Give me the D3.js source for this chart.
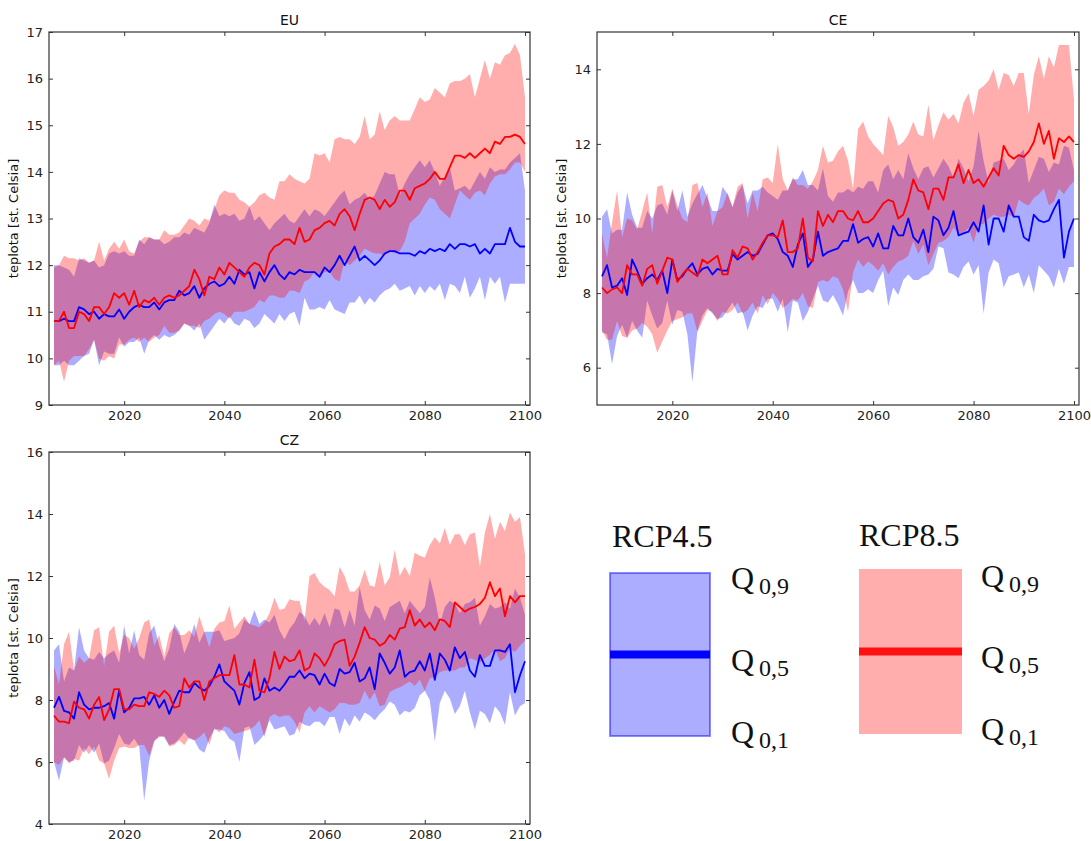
<!DOCTYPE html>
<html><head><meta charset="utf-8">
<script src="https://cdn.jsdelivr.net/npm/d3@7"></script>
<style>
html,body{margin:0;padding:0;background:#fff;}
svg{display:block;}
</style></head>
<body>
<svg id="chart" width="1091" height="841"></svg>
<script>
// ---------------- DATA ----------------
const firstYear = 2006, lastYear = 2100;
const years = d3.range(firstYear, lastYear + 1);
const xTicks = [2020, 2040, 2060, 2080, 2100];
const panelTitles = ["EU", "CE", "CZ"];
const yTicksEU = [9, 10, 11, 12, 13, 14, 15, 16, 17];
const yTicksCE = [6, 8, 10, 12, 14];
const yTicksCZ = [4, 6, 8, 10, 12, 14, 16];
const yLabel = "teplota [st. Celsia]";
const legendNames = ["RCP4.5", "RCP8.5"];
const legendQuantiles = ["0,9", "0,5", "0,1"];

// EU, RCP4.5
const EU_45_q50 = [10.8,10.8,10.85,10.8,10.8,11.1,11.05,10.95,11.0,10.85,
 10.95,10.9,10.9,11.05,10.85,11.0,11.1,11.15,11.1,11.1,
 11.2,11.05,11.2,11.25,11.25,11.45,11.35,11.4,11.55,11.3,
 11.5,11.6,11.65,11.55,11.6,11.75,11.6,11.9,11.8,11.85,
 11.5,11.85,11.65,11.85,12.0,11.8,11.7,11.85,11.8,11.9,
 11.85,11.85,11.85,11.75,11.95,11.85,12.0,12.2,12.0,12.2,
 12.4,12.1,12.2,12.1,12.0,12.1,12.25,12.3,12.3,12.25,
 12.25,12.25,12.2,12.3,12.25,12.35,12.3,12.35,12.3,12.45,
 12.35,12.45,12.45,12.4,12.45,12.25,12.35,12.25,12.45,12.45,
 12.45,12.8,12.5,12.4,12.4];
const EU_45_q90 = [12.0,12.0,11.95,11.9,11.75,12.15,12.1,12.05,12.1,11.95,
 12.0,12.25,12.3,12.25,12.3,12.2,12.2,12.55,12.45,12.6,
 12.55,12.55,12.45,12.5,12.6,12.6,12.7,12.65,12.8,12.75,
 12.7,12.9,13.3,13.05,13.1,13.05,13.1,12.95,13.0,13.25,
 12.95,13.05,12.9,12.75,12.9,13.0,13.1,12.95,12.9,13.05,
 13.2,13.05,13.2,13.15,13.05,13.2,13.35,13.5,13.6,13.3,
 13.4,13.45,13.55,13.4,13.5,13.75,14.0,13.95,13.95,13.5,
 13.75,13.95,14.1,14.25,14.1,14.25,14.0,13.7,13.9,14.1,
 13.6,13.65,13.7,13.6,13.8,14.0,13.85,14.1,14.0,14.05,
 14.05,14.2,14.3,14.4,13.6];
const EU_45_q10 = [9.85,9.85,9.95,9.85,9.85,9.95,10.05,10.1,10.4,9.85,
 10.15,10.1,10.1,10.45,10.25,10.35,10.35,10.45,10.1,10.4,
 10.5,10.4,10.5,10.45,10.5,10.6,10.75,10.7,10.6,10.75,
 10.4,10.55,10.7,10.85,10.75,10.9,10.75,10.7,10.85,10.8,
 10.65,10.75,10.95,10.85,10.75,10.95,10.8,10.95,11.0,10.7,
 11.3,11.05,11.05,11.1,11.05,11.25,11.05,11.0,10.95,11.2,
 11.2,11.35,11.15,11.3,11.2,11.35,11.45,11.5,11.6,11.45,
 11.5,11.55,11.35,11.55,11.4,11.55,11.45,11.6,11.25,11.6,
 11.55,11.4,11.75,11.3,11.5,11.75,11.25,11.75,11.6,11.75,
 11.2,11.6,11.6,11.6,11.6];
// EU, RCP8.5
const EU_85_q50 = [10.8,10.8,11.0,10.65,10.65,11.0,10.95,10.8,11.1,11.1,
 10.95,11.1,11.4,11.3,11.4,11.15,11.45,11.1,11.25,11.2,
 11.3,11.15,11.3,11.35,11.3,11.35,11.45,11.55,11.9,11.7,
 11.35,11.75,11.7,11.95,11.8,12.05,11.95,11.85,11.75,11.95,
 12.05,12.0,11.8,12.25,12.4,12.45,12.55,12.55,12.45,12.8,
 12.5,12.55,12.75,12.8,12.9,12.95,12.85,13.1,13.2,13.05,
 12.75,13.1,13.4,13.45,13.4,13.2,13.4,13.25,13.35,13.6,
 13.6,13.4,13.65,13.7,13.75,13.85,14.0,13.85,13.85,14.1,
 14.35,14.35,14.3,14.4,14.3,14.4,14.5,14.4,14.65,14.6,
 14.75,14.75,14.8,14.75,14.6];
const EU_85_q90 = [11.95,12.0,12.2,12.15,12.15,12.1,12.15,12.05,12.1,12.5,
 12.1,12.35,12.5,12.35,12.55,12.3,12.25,12.5,12.6,12.6,
 12.55,12.55,12.75,12.65,12.65,12.7,12.85,13.0,12.95,12.85,
 13.0,12.95,13.2,13.5,13.6,13.55,13.55,13.4,13.35,13.25,
 13.35,13.5,13.55,13.45,13.4,13.8,13.8,13.95,13.85,13.8,
 13.75,13.85,14.4,14.35,14.4,14.2,14.7,14.75,14.7,14.7,
 14.6,14.75,15.2,14.7,14.8,15.3,14.9,15.1,15.2,15.1,
 15.1,15.1,15.35,15.6,15.5,15.55,15.8,15.7,15.6,15.9,
 15.95,15.95,16.0,16.1,15.6,16.0,16.4,16.0,16.35,16.3,
 16.5,16.55,16.75,16.5,15.6];
const EU_85_q10 = [9.85,9.95,9.5,9.95,10.05,10.05,10.05,10.2,10.4,10.0,
 9.95,10.05,10.0,10.3,10.3,10.4,10.45,10.35,10.45,10.35,
 10.45,10.5,10.7,10.55,10.55,10.6,10.75,10.7,10.7,10.65,
 10.8,10.85,10.95,11.0,10.95,10.85,11.0,11.0,11.0,11.05,
 11.1,11.25,11.2,11.35,11.35,11.3,11.3,11.45,11.45,11.4,
 11.65,11.7,11.85,11.75,11.85,11.85,11.7,11.65,12.1,12.0,
 12.1,12.2,12.35,12.3,12.25,12.25,12.2,12.3,12.25,12.3,
 12.5,12.9,13.0,13.1,13.3,13.45,13.4,13.2,13.1,13.0,
 13.3,13.6,13.5,13.4,13.55,13.6,13.5,13.75,13.9,13.95,
 13.95,14.05,14.2,14.2,14.0];

// CE, RCP4.5
const CE_45_q50 = [8.45,8.75,8.15,8.2,8.4,7.95,8.9,8.6,8.25,8.4,
 8.5,8.35,8.6,8.0,8.9,8.35,8.45,8.65,8.8,8.5,
 8.65,8.7,8.5,8.65,8.6,8.6,9.05,8.9,9.0,9.1,
 9.0,9.05,9.3,9.55,9.6,9.45,9.1,9.0,8.7,9.3,
 9.6,8.7,8.9,9.65,9.0,9.1,9.15,9.2,9.4,9.4,
 9.85,9.35,9.45,9.5,9.25,9.6,9.2,9.2,9.8,9.55,
 9.55,10.0,9.5,9.35,9.7,9.1,10.05,9.95,9.55,9.75,
 10.2,9.55,9.6,9.65,9.9,9.65,10.35,9.3,10.0,10.0,
 9.65,10.35,10.05,10.05,9.5,9.4,10.1,9.95,9.9,9.95,
 10.25,10.5,8.95,9.65,10.0];
const CE_45_q90 = [10.05,10.25,9.6,9.7,9.7,10.7,10.1,9.75,9.75,10.2,
 10.0,10.35,10.4,10.1,10.75,10.2,10.75,10.05,10.4,10.65,
 10.9,10.55,10.2,10.2,10.85,10.65,10.3,10.7,10.9,10.4,
 10.75,10.75,10.85,10.7,10.6,10.5,10.75,10.75,11.05,11.05,
 11.3,10.9,10.9,10.75,11.35,10.6,10.45,10.7,10.7,10.8,
 10.7,10.85,10.8,11.0,11.0,10.7,11.3,11.45,11.05,11.3,
 11.05,11.75,11.35,11.05,11.35,11.4,11.1,11.35,11.6,11.4,
 11.1,11.6,11.35,11.0,11.4,12.35,11.55,10.95,11.5,11.55,
 11.6,11.3,11.45,11.7,11.85,10.95,11.3,11.65,11.6,11.25,
 11.5,11.45,11.95,11.9,11.3];
const CE_45_q10 = [6.95,6.9,6.1,6.85,7.15,6.8,7.25,7.0,6.8,7.8,
 7.4,7.05,7.2,7.8,7.15,7.55,7.5,6.9,5.6,7.0,
 7.4,7.6,7.45,7.3,7.35,7.55,7.75,7.45,7.5,7.0,
 7.4,7.65,7.6,7.85,7.85,7.5,7.85,6.95,7.8,7.75,
 7.25,7.5,7.85,8.2,7.8,7.75,7.95,7.7,7.4,8.05,
 8.35,8.0,8.0,8.1,8.0,8.35,8.6,7.65,8.15,7.95,
 8.35,8.5,8.35,8.35,8.45,8.5,8.65,9.25,9.2,8.55,
 8.5,8.4,8.7,8.85,8.5,8.75,7.45,8.55,8.9,8.8,
 8.15,8.45,8.5,8.55,8.15,8.5,8.0,8.75,8.6,8.45,
 8.15,8.65,8.25,8.7,8.7];
// CE, RCP8.5
const CE_85_q50 = [8.15,8.0,8.1,8.15,8.0,8.75,8.5,8.5,8.2,8.65,
 8.75,8.25,8.6,8.95,8.9,8.3,8.5,8.65,8.55,8.45,
 8.9,8.8,8.9,9.0,8.5,8.5,9.15,8.95,9.25,9.2,
 8.9,9.1,9.35,9.55,9.55,9.5,9.95,9.1,9.1,9.2,
 10.0,8.95,8.85,10.2,9.8,10.1,9.9,10.2,10.2,10.0,
 9.95,10.2,9.9,9.9,10.0,10.2,10.4,10.5,10.45,10.0,
 10.1,10.5,11.05,10.75,10.7,10.25,10.8,10.8,10.5,11.1,
 11.1,11.45,10.95,11.3,10.95,11.05,10.85,11.1,11.35,11.15,
 11.95,11.7,11.6,11.7,11.65,11.8,12.05,12.55,12.0,12.35,
 11.6,12.15,12.05,12.2,12.05];
const CE_85_q90 = [9.6,8.95,9.9,10.75,9.5,10.0,9.95,9.7,10.2,10.7,
 9.6,10.85,10.9,10.3,10.8,10.35,10.0,9.9,10.9,10.95,
 10.3,10.7,9.8,10.2,10.3,10.7,10.3,10.85,10.95,10.0,
 10.7,10.2,11.05,11.1,10.95,12.0,11.05,10.75,11.1,10.9,
 10.9,10.8,11.0,11.3,11.95,11.5,11.55,11.8,11.95,11.55,
 10.8,12.4,12.6,12.2,12.0,11.85,11.7,12.75,12.45,11.95,
 12.05,12.25,12.6,12.25,12.2,13.05,12.1,12.5,12.85,12.65,
 12.8,12.55,13.1,13.35,12.75,13.45,13.55,13.7,14.0,13.45,
 13.9,13.85,13.55,13.9,13.9,12.8,13.85,14.35,13.75,14.35,
 14.05,14.65,14.65,14.65,13.2];
const CE_85_q10 = [7.0,6.75,6.75,7.25,6.85,6.8,7.0,7.05,7.2,7.1,
 6.9,6.4,6.7,7.0,7.25,7.3,7.35,7.45,7.45,6.95,
 7.25,7.55,7.5,7.25,7.5,7.45,7.55,7.75,7.45,7.55,
 7.75,7.45,7.95,7.7,8.0,7.85,7.6,7.7,7.85,7.8,
 8.0,7.65,7.6,8.3,8.35,8.3,8.45,8.4,8.1,7.5,
 8.55,8.9,8.7,8.85,8.75,8.6,8.8,8.5,8.7,8.85,
 8.9,9.0,9.4,9.05,9.3,8.75,9.05,9.35,9.4,9.5,
 9.75,9.6,9.6,9.75,9.35,9.85,9.85,10.0,10.1,10.05,
 10.05,10.1,10.05,10.5,10.4,10.35,10.55,10.65,10.8,10.35,
 10.45,10.8,10.65,10.85,11.0];

// CZ, RCP4.5
const CZ_45_q50 = [7.75,8.1,7.65,7.6,7.4,8.25,7.85,7.7,7.75,7.75,
 7.8,7.9,7.4,8.3,7.6,7.75,8.05,8.05,8.1,7.85,
 8.15,7.75,8.0,7.55,7.95,8.3,8.25,8.25,8.55,8.4,
 8.3,8.45,8.75,9.15,8.6,8.45,8.3,7.85,8.55,8.9,
 8.0,8.1,8.7,8.3,8.4,8.3,8.5,8.75,8.75,8.95,
 8.7,8.85,8.8,8.5,8.85,8.55,8.45,9.0,8.85,8.9,
 9.2,8.6,8.7,9.05,8.35,9.5,9.2,8.85,9.05,9.6,
 8.75,8.9,8.95,9.25,8.95,9.5,8.65,9.5,9.3,8.95,
 9.7,9.35,9.55,8.95,8.75,9.45,9.1,9.1,9.6,9.6,
 9.55,9.8,8.25,8.8,9.25];
const CZ_45_q90 = [9.6,9.8,8.6,9.05,8.95,10.35,9.6,9.35,9.3,9.55,
 9.35,9.5,9.6,9.2,10.4,9.5,10.25,9.45,9.3,10.15,
 10.4,9.75,9.25,9.65,10.45,10.2,9.5,9.9,10.45,9.85,
 10.2,10.2,10.2,10.25,9.9,9.95,10.0,10.15,10.6,10.45,
 10.9,10.45,10.6,10.5,10.75,10.25,9.95,10.3,10.5,10.85,
 10.7,10.4,10.65,10.4,10.8,10.35,10.95,10.9,10.35,10.9,
 10.4,11.65,10.9,10.6,11.05,10.95,10.55,11.0,11.1,11.2,
 10.8,11.2,11.0,10.8,11.0,11.95,11.3,10.45,11.0,11.2,
 11.1,10.8,11.1,11.15,11.3,10.4,10.7,11.1,10.95,11.0,
 11.15,10.95,11.6,11.3,10.75];
const CZ_45_q10 = [6.0,5.4,6.15,6.0,6.05,6.55,6.3,6.55,6.3,6.6,
 5.95,6.05,6.45,6.9,6.6,6.55,6.75,6.5,4.75,6.05,
 6.65,6.85,6.8,6.55,6.6,6.75,6.95,6.75,6.7,6.4,
 6.3,6.75,7.05,7.05,7.0,6.75,6.65,6.0,7.1,7.15,
 6.55,6.7,6.9,7.35,7.05,7.1,7.15,6.85,6.9,7.3,
 7.2,7.15,7.3,7.3,7.15,7.45,7.45,6.9,7.4,7.15,
 7.5,7.3,7.6,7.5,7.35,7.55,7.7,7.95,7.85,7.5,
 7.65,7.6,7.75,8.15,8.3,8.0,6.65,7.9,8.3,8.05,
 7.55,7.8,8.3,7.6,7.05,7.65,7.55,7.25,7.8,7.6,
 7.2,8.25,7.5,7.8,7.9];
// CZ, RCP8.5
const CZ_85_q50 = [7.5,7.3,7.3,7.25,7.95,7.75,7.7,7.4,7.85,8.1,
 7.35,7.7,8.35,8.35,7.7,7.7,7.85,7.8,7.8,8.25,
 8.2,8.1,8.3,8.15,7.75,7.8,8.7,8.4,8.6,8.6,
 8.0,8.6,8.7,8.8,8.8,8.8,9.45,8.5,8.5,8.4,
 9.3,8.3,8.25,8.7,9.55,9.0,9.4,9.25,9.3,9.6,
 8.95,9.05,9.5,9.35,9.1,9.4,9.8,9.9,9.95,9.1,
 9.4,9.85,10.35,10.0,9.95,9.75,9.85,10.1,9.95,10.3,
 10.35,10.9,10.4,10.6,10.35,10.5,10.25,10.6,10.55,10.35,
 11.15,11.0,10.85,10.95,11.0,11.1,11.3,11.8,11.35,11.6,
 10.7,11.35,11.15,11.35,11.35];
const CZ_85_q90 = [9.1,8.5,9.8,10.2,8.95,9.4,9.2,9.35,10.25,10.35,
 9.1,10.2,10.4,9.5,10.1,10.0,9.65,10.0,10.5,10.6,
 9.75,10.1,9.4,10.15,10.35,10.1,10.1,10.25,10.05,10.7,
 10.2,9.7,10.3,10.5,10.55,11.05,10.3,10.5,10.7,10.45,
 10.4,10.35,10.5,10.8,11.3,10.9,10.95,11.25,11.2,11.2,
 10.55,12.0,12.1,11.8,11.65,11.55,11.35,12.3,12.0,11.5,
 11.5,11.7,12.2,11.7,11.65,12.45,11.7,11.95,12.85,12.0,
 12.3,12.0,12.75,12.65,12.6,13.0,13.25,13.05,13.55,13.0,
 13.35,13.35,13.0,13.35,13.4,12.3,13.4,14.0,13.2,13.75,
 13.45,14.05,13.75,13.9,12.7];
const CZ_85_q10 = [6.0,5.9,6.15,5.95,6.1,6.05,6.45,6.25,6.5,6.05,
 5.95,5.45,6.05,6.45,6.5,6.45,6.45,6.55,6.55,6.2,
 6.7,6.8,6.85,6.5,6.55,6.7,6.55,6.8,6.7,6.8,
 6.95,6.55,7.1,6.95,7.15,7.1,6.9,6.95,7.0,7.05,
 7.15,7.35,6.8,7.45,7.55,7.45,7.5,7.5,7.3,6.95,
 7.6,7.8,7.6,7.8,7.7,7.6,7.7,7.9,7.9,7.85,
 7.85,7.9,8.3,8.0,8.25,7.8,7.85,8.25,8.35,8.4,
 8.5,8.6,8.45,8.65,8.3,8.7,8.75,8.9,8.95,8.95,
 8.95,9.05,9.05,9.35,9.3,9.2,9.35,9.45,9.65,9.25,
 9.35,9.65,9.55,9.75,9.9];

// ---------------- DRAWING ----------------
const svg = d3.select("#chart");
const FONT = "'DejaVu Sans', sans-serif";
const BLUE = "#0000ff", RED = "#ff0000";
const FILL_OPACITY = 0.32;

const panels = [
  {title: panelTitles[0], box: {l: 49, r: 530, t: 32, b: 405}, yDomain: [9, 17], yTicks: yTicksEU,
   s45: [EU_45_q10, EU_45_q50, EU_45_q90], s85: [EU_85_q10, EU_85_q50, EU_85_q90]},
  {title: panelTitles[1], box: {l: 597, r: 1079, t: 32, b: 405}, yDomain: [5, 15], yTicks: yTicksCE,
   s45: [CE_45_q10, CE_45_q50, CE_45_q90], s85: [CE_85_q10, CE_85_q50, CE_85_q90]},
  {title: panelTitles[2], box: {l: 49, r: 530, t: 452, b: 824}, yDomain: [4, 16], yTicks: yTicksCZ,
   s45: [CZ_45_q10, CZ_45_q50, CZ_45_q90], s85: [CZ_85_q10, CZ_85_q50, CZ_85_q90]}
];

panels.forEach(p => {
  const {l, r, t, b} = p.box;
  const x = d3.scaleLinear().domain([2005, 2101]).range([l, r]);
  const y = d3.scaleLinear().domain(p.yDomain).range([b, t]);
  const g = svg.append("g");

  const clipId = "clip-" + p.title;
  svg.append("clipPath").attr("id", clipId)
    .append("rect").attr("x", l).attr("y", t).attr("width", r - l).attr("height", b - t);

  const plot = g.append("g").attr("clip-path", `url(#${clipId})`);

  const band = (lo, hi) => d3.area()
    .x((d, i) => x(years[i]))
    .y0((d, i) => y(lo[i]))
    .y1((d, i) => y(hi[i]))(years);
  const line = (arr) => d3.line()
    .x((d, i) => x(years[i]))
    .y((d, i) => y(arr[i]))(years);

  plot.append("path").attr("d", band(p.s45[0], p.s45[2]))
    .attr("fill", BLUE).attr("fill-opacity", FILL_OPACITY).attr("stroke", "none");
  plot.append("path").attr("d", band(p.s85[0], p.s85[2]))
    .attr("fill", RED).attr("fill-opacity", FILL_OPACITY).attr("stroke", "none");
  plot.append("path").attr("d", line(p.s45[1]))
    .attr("fill", "none").attr("stroke", BLUE).attr("stroke-width", 1.8).attr("stroke-linejoin", "round");
  plot.append("path").attr("d", line(p.s85[1]))
    .attr("fill", "none").attr("stroke", RED).attr("stroke-width", 1.8).attr("stroke-linejoin", "round");

  // axes (ticks inward, all four sides)
  const styleAxis = sel => {
    sel.select(".domain").remove();
    sel.selectAll(".tick line").attr("stroke", "#333").attr("stroke-width", 1);
    sel.selectAll(".tick text").attr("fill", "#222").style("font-family", FONT).style("font-size", "13px");
  };
  g.append("g").attr("transform", `translate(${l},0)`)
    .call(d3.axisLeft(y).tickValues(p.yTicks).tickFormat(d3.format("d")).tickSizeInner(-4).tickSizeOuter(0).tickPadding(6))
    .call(styleAxis);
  g.append("g").attr("transform", `translate(${r},0)`)
    .call(d3.axisRight(y).tickValues(p.yTicks).tickFormat("").tickSizeInner(-4).tickSizeOuter(0))
    .call(styleAxis);
  g.append("g").attr("transform", `translate(0,${b})`)
    .call(d3.axisBottom(x).tickValues(xTicks).tickFormat(d3.format("d")).tickSizeInner(-4).tickSizeOuter(0).tickPadding(6))
    .call(styleAxis);
  g.append("g").attr("transform", `translate(0,${t})`)
    .call(d3.axisTop(x).tickValues(xTicks).tickFormat("").tickSizeInner(-4).tickSizeOuter(0))
    .call(styleAxis);

  g.append("rect").attr("x", l).attr("y", t).attr("width", r - l).attr("height", b - t)
    .attr("fill", "none").attr("stroke", "#333").attr("stroke-width", 1.2);

  g.append("text").attr("x", (l + r) / 2).attr("y", t - 7)
    .attr("text-anchor", "middle").attr("fill", "#111")
    .style("font-family", FONT).style("font-size", "14px").text(p.title);

  g.append("text")
    .attr("transform", `translate(${l - 31},${(t + b) / 2}) rotate(-90)`)
    .attr("text-anchor", "middle").attr("fill", "#111")
    .style("font-family", FONT).style("font-size", "13px").text(yLabel);
});

// ---------------- LEGEND ----------------
const SERIF = "'Liberation Serif', 'Times New Roman', serif";
const legends = [
  {name: legendNames[0], color: BLUE, x: 610, w: 100, top: 573, bottom: 736, mid: 654.5,
   tx: 612, ty: 547, qx: 731, qy: [589, 671, 743], border: true},
  {name: legendNames[1], color: RED, x: 859, w: 103, top: 569, bottom: 734, mid: 651.5,
   tx: 859, ty: 546, qx: 981, qy: [587, 668, 740], border: false}
];
legends.forEach(L => {
  const lg = svg.append("g");
  lg.append("rect").attr("x", L.x).attr("y", L.top).attr("width", L.w).attr("height", L.bottom - L.top)
    .attr("fill", L.color).attr("fill-opacity", FILL_OPACITY)
    .attr("stroke", L.border ? L.color : "none").attr("stroke-opacity", 0.45).attr("stroke-width", 2);
  lg.append("line").attr("x1", L.x).attr("x2", L.x + L.w).attr("y1", L.mid).attr("y2", L.mid)
    .attr("stroke", L.color).attr("stroke-width", 8).attr("stroke-opacity", L.border ? 1 : 0.9);
  lg.append("text").attr("x", L.tx).attr("y", L.ty).attr("fill", "#111")
    .style("font-family", SERIF).style("font-size", "32px").text(L.name);
  legendQuantiles.forEach((q, i) => {
    const t = lg.append("text").attr("x", L.qx).attr("y", L.qy[i]).attr("fill", "#111")
      .style("font-family", SERIF).style("font-size", "32px");
    t.append("tspan").text("Q");
    t.append("tspan").attr("dx", 5).attr("dy", 5).style("font-size", "24px").text(q);
  });
});
</script>
</body></html>
